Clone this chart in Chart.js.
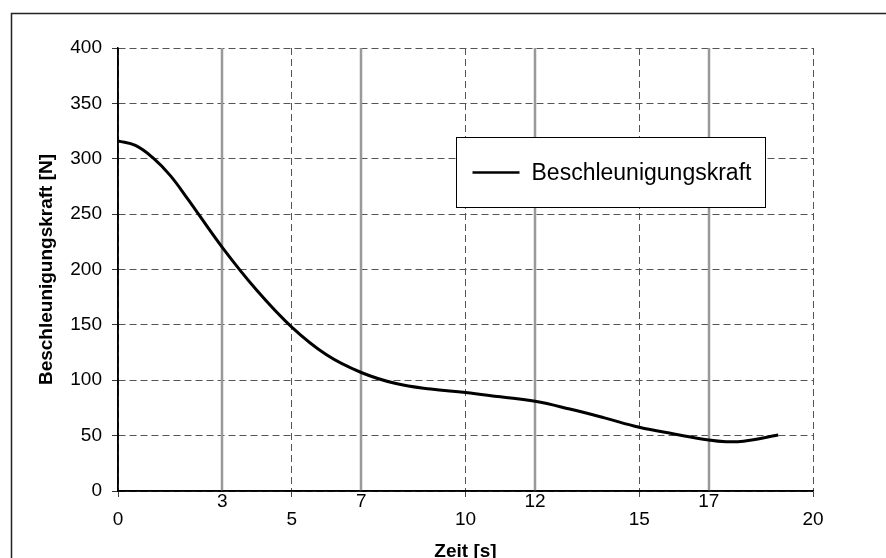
<!DOCTYPE html>
<html>
<head>
<meta charset="utf-8">
<script src="https://cdn.jsdelivr.net/npm/chart.js@4/dist/chart.umd.min.js"></script>
<style>
    html, body { margin: 0; padding: 0; background: #fff; }
</style>
</head>
<body>
<canvas id="kraftChart" width="886" height="558"></canvas>
<script>
    // Werte (Zeit in s, Kraft in N)
    var zeit  = [0,   0.5,   1,   1.5, 2,   3,   4,   5,   6,   7,   8,  9,  10, 11, 12, 13, 14, 15,   16,   17, 17.5, 18, 19];
    var kraft = [316, 312, 301, 285, 264, 220, 181, 148, 123, 107, 97, 92, 89, 85, 81, 74, 66, 57.5, 51.5, 46, 44.5, 45, 50.5];

    var xTicks = [0, 3, 5, 7, 10, 12, 15, 17, 20];
    var xHaupt = [0, 5, 10, 15, 20];   // gestrichelte Linien, Beschriftung tiefer
    var xNeben = [3, 7, 12, 17];       // durchgezogene graue Linien
    var serieName = 'Beschleunigungskraft';

    var schrift = '"Liberation Sans", Arial, sans-serif';

    function istNeben(v) {
        return xNeben.indexOf(v) >= 0;
    }

    // Rahmen um das ganze Diagramm
    var rahmenPlugin = {
        id: 'rahmen',
        afterDraw: function (chart) {
            var c = chart.ctx;
            c.save();
            c.strokeStyle = '#222';
            c.lineWidth = 1.5;
            c.strokeRect(11.5, 13.5, 900, 600);
            c.restore();
        }
    };

    // graue durchgezogene Linien bei 3, 7, 12, 17
    var nebenLinienPlugin = {
        id: 'nebenLinien',
        beforeDatasetsDraw: function (chart) {
            var c = chart.ctx;
            var area = chart.chartArea;
            var sx = chart.scales.x;
            c.save();
            c.strokeStyle = '#999';
            c.lineWidth = 2.5;
            xNeben.forEach(function (v) {
                var px = Math.round(sx.getPixelForValue(v));
                c.beginPath();
                c.moveTo(px, area.top);
                c.lineTo(px, area.bottom);
                c.stroke();
            });
            // Achsen wieder durchgezogen nachzeichnen
            c.strokeStyle = '#000';
            c.lineWidth = 1.5;
            c.beginPath();
            c.moveTo(area.left, area.top);
            c.lineTo(area.left, area.bottom);
            c.lineTo(area.right, area.bottom);
            c.stroke();
            c.restore();
        }
    };

    // Legende als Kasten im Diagramm
    var legendePlugin = {
        id: 'legendeKasten',
        afterDatasetsDraw: function (chart) {
            var c = chart.ctx;
            var area = chart.chartArea;
            var ds = chart.data.datasets[0];
            var x = area.left + 338.5, y = area.top + 89.5, w = 309, h = 70;
            c.save();
            c.fillStyle = '#fff';
            c.fillRect(x, y, w, h);
            c.strokeStyle = '#000';
            c.lineWidth = 1;
            c.strokeRect(x, y, w, h);
            var my = y + h / 2;
            c.strokeStyle = ds.borderColor;
            c.lineWidth = 2.5;
            c.beginPath();
            c.moveTo(x + 16, my);
            c.lineTo(x + 63, my);
            c.stroke();
            c.fillStyle = '#000';
            c.font = '23px ' + schrift;
            c.textBaseline = 'middle';
            c.fillText(ds.label, x + 75, my + 1);
            c.restore();
        }
    };

    var ctx = document.getElementById('kraftChart').getContext('2d');
    var kraftChart = new Chart(ctx, {
        type: 'line',
        data: {
            datasets: [{
                label: serieName,
                data: zeit.map(function (t, i) { return { x: t, y: kraft[i] }; }),
                borderColor: '#000',
                borderWidth: 3,
                pointRadius: 0,
                fill: false,
                tension: 0.4
            }]
        },
        options: {
            responsive: false,
            animation: false,
            devicePixelRatio: 1,
            layout: { padding: { left: 0, top: 48, right: 73, bottom: 0 } },
            plugins: {
                legend: { display: false },
                tooltip: { enabled: false }
            },
            scales: {
                x: {
                    type: 'linear',
                    min: 0,
                    max: 20,
                    afterBuildTicks: function (axis) {
                        axis.ticks = xTicks.map(function (v) { return { value: v }; });
                    },
                    afterFit: function (axis) { axis.height = 67; },
                    ticks: {
                        color: '#000',
                        padding: -4,
                        maxRotation: 0,
                        autoSkip: false,
                        font: { family: schrift, size: 19, lineHeight: '18px' },
                        callback: function (v) {
                            return istNeben(v) ? String(v) : ['', String(v)];
                        }
                    },
                    grid: {
                        color: function (c) {
                            return c.tick && istNeben(c.tick.value) ? 'rgba(0,0,0,0)' : '#555';
                        },
                        tickColor: function (c) {
                            return c.tick && istNeben(c.tick.value) ? 'rgba(0,0,0,0)' : '#444';
                        },
                        lineWidth: 1,
                        tickLength: 6
                    },
                    border: { color: '#000', width: 1.5, dash: [7, 4] },
                    title: {
                        display: true,
                        text: 'Zeit [s]',
                        color: '#000',
                        font: { family: schrift, size: 19, weight: 'bold' },
                        padding: { top: 0, bottom: -5 }
                    }
                },
                y: {
                    min: 0,
                    max: 400,
                    afterFit: function (axis) { axis.width = 118; },
                    ticks: {
                        stepSize: 50,
                        color: '#000',
                        padding: 10,
                        font: { family: schrift, size: 19 }
                    },
                    grid: {
                        color: '#555',
                        tickColor: '#333',
                        lineWidth: 1,
                        tickLength: 6
                    },
                    border: { color: '#000', width: 1.5, dash: [7, 4] },
                    title: {
                        display: true,
                        text: 'Beschleunigungskraft [N]',
                        color: '#000',
                        font: { family: schrift, size: 19, weight: 'bold' },
                        padding: { top: 35, bottom: 0 }
                    }
                }
            }
        },
        plugins: [rahmenPlugin, nebenLinienPlugin, legendePlugin]
    });
</script>
</body>
</html>
